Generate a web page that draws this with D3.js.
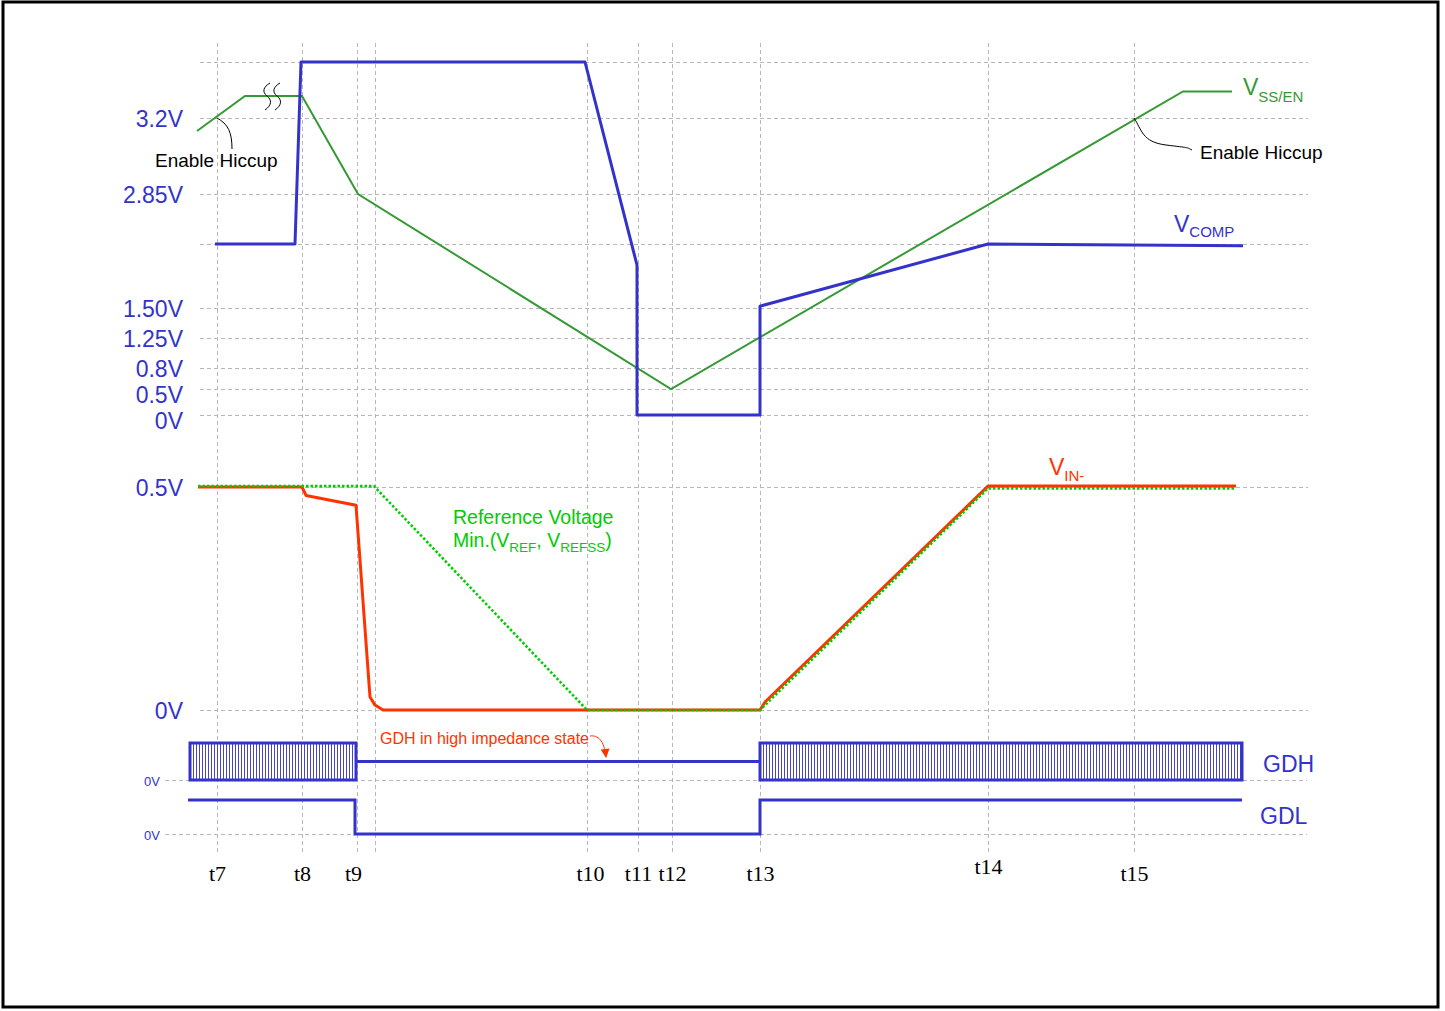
<!DOCTYPE html>
<html><head><meta charset="utf-8">
<script src="https://cdn.jsdelivr.net/npm/d3@7"></script>
<style>
html,body{margin:0;padding:0;background:#fff;}
svg{display:block;font-family:"Liberation Sans",Arial,sans-serif;}
</style></head><body>
<svg id="chart" width="1445" height="1011"></svg>
<script>
// ---------------- data ----------------
const timeLabels = ["t7","t8","t9","","t10","t11","t12","t13","t14","t15"];
const timeValues = [0, 85, 140, 158, 370, 421, 455, 543, 771, 917];

const topTickValues = [3.8, 3.2, 2.85, 2.2, 1.5, 1.25, 0.8, 0.5, 0];
const topTickLabels = ["", "3.2V", "2.85V", "", "1.50V", "1.25V", "0.8V", "0.5V", "0V"];

const vinTickValues = [0.5, 0];
const vinTickLabels = ["0.5V", "0V"];

const vssTime = [-20, 28, 85, 141, 454, 966, 1015];
const vssVolt = [3.14, 3.5, 3.5, 2.85, 0.5, 3.54, 3.54];

const vcompTime = [-2, 78, 84, 368, 420, 420, 543, 543, 771, 1026];
const vcompVolt = [2.2, 2.2, 3.8, 3.8, 1.97, 0, 0, 1.52, 2.2, 2.18];

const vinTime = [-19, 85, 89, 139, 153, 158, 166, 543, 548, 771, 1019];
const vinVolt = [0.5, 0.5, 0.481, 0.459, 0.029, 0.011, 0, 0, 0.018, 0.502, 0.502];

const refTime = [-19, 157, 370, 543, 771, 1019];
const refVolt = [0.502, 0.502, 0, 0, 0.497, 0.497];

const gdhSwitchStart = [-27, 543];
const gdhSwitchEnd = [139, 1025];
const gdhHighZ = [139, 543];
const gdlTime = [-29, 138, 138, 543, 543, 1025];
const gdlLevel = [1, 1, 0, 0, 1, 1];

// ---------------- setup ----------------
const BLUE = "#3333cc", GREEN = "#359a35", BRIGHT = "#00cc00", RED = "#ff3300", GRID = "#b8b8b8";
const SANS = "'Liberation Sans', Arial, sans-serif";
const SERIF = "'Liberation Serif', 'Times New Roman', serif";
const svg = d3.select("#chart");

const x = d3.scaleLinear().domain([0, 917]).range([217, 1134]);
const yTop = d3.scaleLinear()
  .domain([0, 0.5, 0.8, 1.25, 1.5, 2.2, 2.85, 3.2, 3.5, 3.8])
  .range([415, 389, 368, 338, 308, 244, 194, 118, 96, 62]);
const yVin = d3.scaleLinear().domain([0, 0.5]).range([710, 487]);
const yGdh = d3.scaleLinear().domain([0, 1]).range([780, 743]);
const yGdl = d3.scaleLinear().domain([0, 1]).range([834, 800]);

const defs = svg.append("defs");
const pat = defs.append("pattern").attr("id", "hatch").attr("patternUnits", "userSpaceOnUse")
  .attr("width", 3).attr("height", 10);
pat.append("rect").attr("width", 3).attr("height", 10).attr("fill", "#fff");
pat.append("line").attr("x1", 1.5).attr("x2", 1.5).attr("y1", 0).attr("y2", 10)
  .attr("stroke", "#4444cc").attr("stroke-width", 1);
defs.append("marker").attr("id", "arr").attr("viewBox", "0 0 10 10").attr("refX", 9).attr("refY", 5)
  .attr("markerWidth", 10).attr("markerHeight", 9).attr("orient", "auto")
  .attr("markerUnits", "userSpaceOnUse")
  .append("path").attr("d", "M0,0 L10,5 L0,10 Z").attr("fill", RED);

// frame
svg.append("rect").attr("x", 3).attr("y", 2).attr("width", 1435).attr("height", 1005)
  .attr("fill", "none").attr("stroke", "#000").attr("stroke-width", 3);

function styleGrid(g) {
  g.attr("font-family", null).style("font-family", SANS);
  g.select(".domain").remove();
  g.selectAll(".tick line").attr("stroke", GRID).attr("stroke-width", 1).attr("stroke-dasharray", "4,3");
}

// vertical grid + time labels
const gx = svg.append("g").attr("transform", "translate(0,852)")
  .call(d3.axisBottom(x).tickValues(timeValues)
    .tickFormat(d => timeLabels[timeValues.indexOf(d)])
    .tickSize(-810).tickPadding(13));
styleGrid(gx);
const tShift = {"t9": -4, "t10": 3};
gx.selectAll(".tick text").style("font-family", SERIF)
  .attr("font-size", 22).attr("fill", "#000")
  .attr("dx", d => tShift[timeLabels[timeValues.indexOf(d)]] || 0)
  .attr("dy", d => timeLabels[timeValues.indexOf(d)] === "t14" ? "0.39em" : "0.71em");

// top horizontal grid + labels
const gTop = svg.append("g").attr("transform", "translate(200,0)")
  .call(d3.axisLeft(yTop).tickValues(topTickValues)
    .tickFormat(d => topTickLabels[topTickValues.indexOf(d)])
    .tickSize(-1108).tickPadding(17));
styleGrid(gTop);
const nudge = {"0.8V": -0.5, "0.5V": 4.6, "0V": 5};
gTop.selectAll(".tick text").attr("font-size", 23).attr("fill", BLUE)
  .attr("dy", "0.38em")
  .attr("y", d => nudge[topTickLabels[topTickValues.indexOf(d)]] || 0);

// VIN grid
const gVin = svg.append("g").attr("transform", "translate(200,0)")
  .call(d3.axisLeft(yVin).tickValues(vinTickValues)
    .tickFormat(d => vinTickLabels[vinTickValues.indexOf(d)])
    .tickSize(-1108).tickPadding(17));
styleGrid(gVin);
gVin.selectAll(".tick text").attr("font-size", 23).attr("fill", BLUE).attr("dy", "0.38em");

// GDH / GDL zero lines
[yGdh, yGdl].forEach(sc => {
  const g = svg.append("g").attr("transform", "translate(165,0)")
    .call(d3.axisLeft(sc).tickValues([0]).tickFormat(() => "0V").tickSize(-1142).tickPadding(5));
  styleGrid(g);
  g.selectAll(".tick text").attr("font-size", 13).attr("fill", BLUE).attr("dy", "0.4em");
});

// ---------------- series ----------------
const lineTop = d3.line().x(d => x(d[0])).y(d => yTop(d[1]));
const lineVin = d3.line().x(d => x(d[0])).y(d => yVin(d[1]));

svg.append("path").attr("d", lineTop(d3.zip(vssTime, vssVolt)))
  .attr("fill", "none").attr("stroke", GREEN).attr("stroke-width", 2);
svg.append("path").attr("d", lineTop(d3.zip(vcompTime, vcompVolt)))
  .attr("fill", "none").attr("stroke", BLUE).attr("stroke-width", 3).attr("stroke-linejoin", "round");

svg.append("path").attr("d", lineVin(d3.zip(vinTime, vinVolt)))
  .attr("fill", "none").attr("stroke", RED).attr("stroke-width", 3).attr("stroke-linejoin", "round");
svg.append("path").attr("d", lineVin(d3.zip(refTime, refVolt)))
  .attr("fill", "none").attr("stroke", BRIGHT).attr("stroke-width", 2.6).attr("stroke-dasharray", "2.5,2");

// GDH
gdhSwitchStart.forEach((s, i) => {
  svg.append("rect").attr("x", x(s)).attr("y", yGdh(1))
    .attr("width", x(gdhSwitchEnd[i]) - x(s)).attr("height", yGdh(0) - yGdh(1))
    .attr("fill", "url(#hatch)").attr("stroke", BLUE).attr("stroke-width", 3);
});
svg.append("line").attr("x1", x(gdhHighZ[0])).attr("x2", x(gdhHighZ[1]))
  .attr("y1", yGdh(0.5)).attr("y2", yGdh(0.5)).attr("stroke", BLUE).attr("stroke-width", 3);
// GDL
svg.append("path").attr("d", d3.line().x(d => x(d[0])).y(d => yGdl(d[1]))(d3.zip(gdlTime, gdlLevel)))
  .attr("fill", "none").attr("stroke", BLUE).attr("stroke-width", 3);

// ---------------- annotations ----------------
// break symbol
const bx = x(55), by = yTop(3.5);
[0, 10].forEach(o => {
  svg.append("path")
    .attr("d", `M${bx + o - 2},${by - 13} C${bx + o - 9},${by - 9} ${bx + o - 10},${by - 4} ${bx + o - 5},${by} C${bx + o},${by + 4} ${bx + o},${by + 9} ${bx + o - 7},${by + 14}`)
    .attr("fill", "none").attr("stroke", "#000").attr("stroke-width", 1);
});
// Enable Hiccup left
const ehx = x(0), ehy = yTop(3.2);
svg.append("path").attr("d", `M${ehx},${ehy} C${ehx + 11},${ehy + 6} ${ehx + 15},${ehy + 14} ${ehx + 15},${ehy + 31}`)
  .attr("fill", "none").attr("stroke", "#000").attr("stroke-width", 1);
svg.append("text").attr("x", 155).attr("y", 167).attr("font-size", 19).attr("fill", "#000").text("Enable Hiccup");
// Enable Hiccup right
const erx = x(917), ery = yTop(3.2);
svg.append("path").attr("d", `M${erx},${ery} C${erx + 8},${ery + 12} ${erx + 8},${ery + 24} ${erx + 32},${ery + 27} S${erx + 52},${ery + 29} ${erx + 58},${ery + 32}`)
  .attr("fill", "none").attr("stroke", "#000").attr("stroke-width", 1);
svg.append("text").attr("x", 1200).attr("y", 159).attr("font-size", 19).attr("fill", "#000").text("Enable Hiccup");

// series labels
function subLabel(xp, yp, main, sub, color, dy) {
  const t = svg.append("text").attr("x", xp).attr("y", yp).attr("font-size", 23).attr("fill", color);
  t.append("tspan").text(main);
  t.append("tspan").attr("font-size", 15).attr("dy", dy).text(sub);
}
subLabel(1243, 95, "V", "SS/EN", GREEN, 6.5);
subLabel(1174, 232, "V", "COMP", BLUE, 5);
subLabel(1049, 475, "V", "IN-", RED, 6);

// Reference voltage text
svg.append("text").attr("x", 453).attr("y", 524).attr("font-size", 19.5).attr("fill", BRIGHT).text("Reference Voltage");
const rt = svg.append("text").attr("x", 453).attr("y", 547).attr("font-size", 19.5).attr("fill", BRIGHT);
rt.append("tspan").text("Min.(V");
rt.append("tspan").attr("font-size", 13.5).attr("dy", 5).text("REF");
rt.append("tspan").attr("dy", -5).text(", V");
rt.append("tspan").attr("font-size", 13.5).attr("dy", 5).text("REFSS");
rt.append("tspan").attr("dy", -5).text(")");

// GDH high impedance note
svg.append("text").attr("x", 380).attr("y", 744).attr("font-size", 16).attr("fill", RED)
  .text("GDH in high impedance state");
svg.append("path").attr("d", "M590,736 C598,735 604,740 606,757")
  .attr("fill", "none").attr("stroke", RED).attr("stroke-width", 1).attr("marker-end", "url(#arr)");

svg.append("text").attr("x", 1263).attr("y", 772).attr("font-size", 23).attr("fill", BLUE).text("GDH");
svg.append("text").attr("x", 1260).attr("y", 824).attr("font-size", 23).attr("fill", BLUE).text("GDL");
</script>
</body></html>
